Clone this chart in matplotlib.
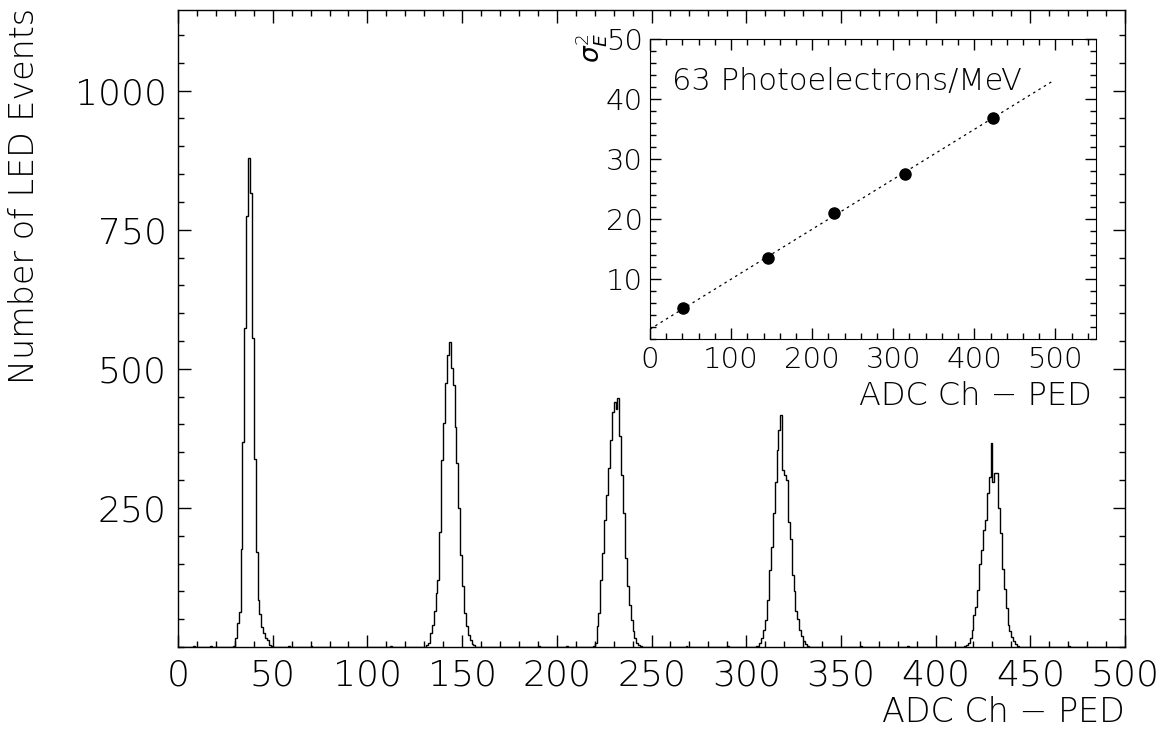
import numpy as np
import matplotlib
matplotlib.use("Agg")
from matplotlib import pyplot as plt
from matplotlib.ticker import MultipleLocator, FixedLocator

plt.rcParams['font.family'] = ['DejaVu Sans']
plt.rcParams['font.weight'] = 'light'
plt.rcParams['mathtext.fontset'] = 'dejavusans'

# LED spectrum, 1 ADC channel per bin, counts
n_bins = 500
peak1_start = 29
peak1 = [2, 16, 43, 63, 177, 369, 573, 774, 879, 816, 555, 338, 171, 85, 60, 36, 25, 16, 13, 4, 2]
peak2_start = 131
peak2 = [3, 7, 25, 40, 64, 97, 120, 207, 336, 402, 474, 525, 549, 501, 471, 395, 330, 250, 165,
         110, 62, 38, 22, 12, 6, 3]
peak3_start = 219
peak3 = [2, 7, 37, 61, 120, 169, 228, 273, 322, 372, 423, 440, 428, 447, 380, 310, 240, 160,
         110, 75, 48, 28, 16, 8, 3, 1]
peak4_start = 305
peak4 = [1, 2, 7, 16, 31, 49, 85, 138, 180, 241, 297, 354, 390, 417, 318, 310, 300, 225, 195,
         130, 100, 65, 50, 30, 20, 10, 5, 2]
peak5_start = 415
peak5 = [1, 3, 7, 16, 31, 58, 72, 102, 150, 174, 210, 228, 276, 306, 367, 297, 312, 312, 250,
         205, 140, 105, 70, 40, 28, 18, 10, 5, 2]
# stray single counts between the peaks
stray_bins = [8, 17, 58, 70, 112, 190, 205, 268, 290, 360, 385, 470]
stray_counts = [1, 2, 1, 2, 1, 1, 2, 1, 2, 1, 1, 1]

# inset: sigma_E^2 vs peak position
pts_x = [40.2, 145.8, 227.2, 314.7, 423.1]
pts_y = [5.2, 13.6, 21.1, 27.6, 36.9]
fit_x = [0, 495]
fit_y = [1.7, 42.9]

counts = np.zeros(n_bins)
for start, vals in [(peak1_start, peak1), (peak2_start, peak2), (peak3_start, peak3),
                    (peak4_start, peak4), (peak5_start, peak5)]:
    counts[start:start + len(vals)] = vals
counts[stray_bins] = stray_counts
edges = np.arange(n_bins + 1)

W, H = 1168, 755
fig = plt.figure(figsize=(W / 100, H / 100), dpi=100)

ax = fig.add_axes([178 / W, 1 - 647 / H, (1125 - 178) / W, (647 - 10) / H])
ax.stairs(counts, edges, color='black', lw=1.0)
ax.set_xlim(0, 500)
ax.set_ylim(0, 1145)
ax.xaxis.set_major_locator(MultipleLocator(50))
ax.xaxis.set_minor_locator(MultipleLocator(10))
ax.yaxis.set_major_locator(FixedLocator([250, 500, 750, 1000]))
ax.yaxis.set_minor_locator(MultipleLocator(50))
ax.tick_params(which='both', direction='in', top=True, right=True, width=1)
ax.tick_params(which='major', length=9, labelsize=26, pad=8)
ax.tick_params(which='minor', length=4.5)
for s in ax.spines.values():
    s.set_linewidth(1)
fig.text(1125 / W, 1 - 713 / H, 'ADC Ch \u2212 PED', ha='right', va='center', fontsize=24)
fig.text(25 / W, 1 - 8 / H, 'Number of LED Events', ha='center', va='top', rotation=90, fontsize=24)

ins = fig.add_axes([650 / W, 1 - 339.3 / H, (1096 - 650) / W, (339.3 - 39.3) / H])
ins.plot(fit_x, fit_y, color='black', lw=0.9, ls=(0, (2, 3)))
ins.plot(pts_x, pts_y, 'o', color='black', ms=8)
ins.set_xlim(0, 550)
ins.set_ylim(0, 50)
ins.xaxis.set_major_locator(FixedLocator([0, 100, 200, 300, 400, 500]))
ins.xaxis.set_minor_locator(MultipleLocator(20))
ins.yaxis.set_major_locator(FixedLocator([10, 20, 30, 40, 50]))
ins.yaxis.set_minor_locator(MultipleLocator(2))
ins.tick_params(which='both', direction='in', top=True, right=True, width=1)
ins.tick_params(which='major', length=8, labelsize=21, pad=5)
ins.tick_params(which='minor', length=4)
ins.text(0.05, 0.86, '63 Photoelectrons/MeV', transform=ins.transAxes, fontsize=22, ha='left', va='center')
fig.text(1092 / W, 1 - 396 / H, 'ADC Ch \u2212 PED', ha='right', va='center', fontsize=23)
fig.text(591 / W, 1 - 48 / H, r'$\sigma_E^2$', ha='center', va='center', rotation=90, fontsize=19)

fig.savefig('out.png', dpi=100)
